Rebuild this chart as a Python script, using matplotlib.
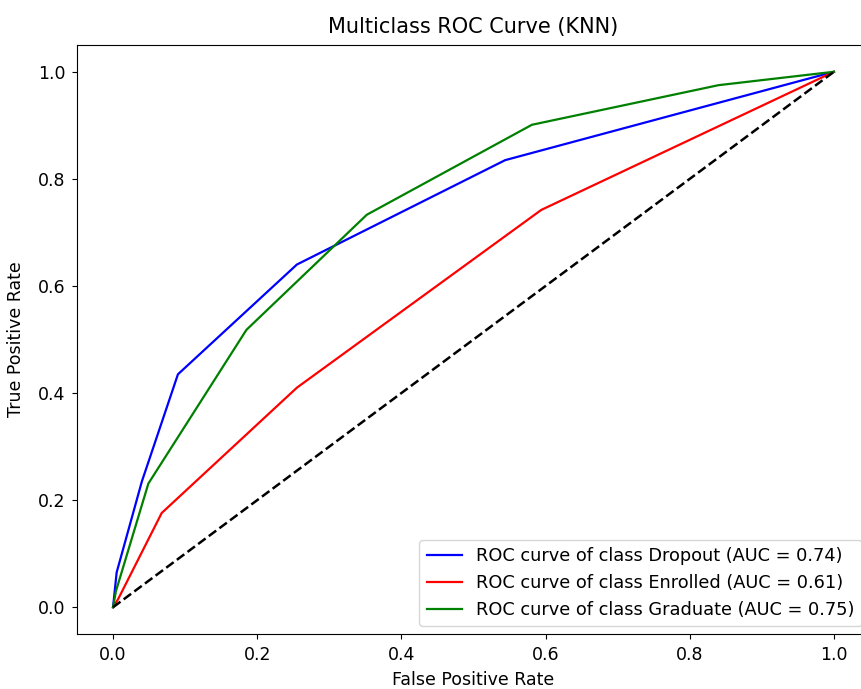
import matplotlib
matplotlib.use("Agg")
import matplotlib.pyplot as plt

classes = ["Dropout", "Enrolled", "Graduate"]
colors = ["blue", "red", "green"]
aucs = [0.74, 0.61, 0.75]

fpr_dropout = [0.0, 0.005, 0.04, 0.09, 0.255, 0.544, 1.0]
tpr_dropout = [0.0, 0.065, 0.235, 0.435, 0.64, 0.835, 1.0]

fpr_enrolled = [0.0, 0.007, 0.0675, 0.255, 0.594, 1.0]
tpr_enrolled = [0.0, 0.015, 0.176, 0.41, 0.742, 1.0]

fpr_graduate = [0.0, 0.004, 0.049, 0.185, 0.352, 0.581, 0.84, 1.0]
tpr_graduate = [0.0, 0.03, 0.231, 0.518, 0.733, 0.901, 0.975, 1.0]

fprs = [fpr_dropout, fpr_enrolled, fpr_graduate]
tprs = [tpr_dropout, tpr_enrolled, tpr_graduate]

fig = plt.figure(figsize=(8.61, 6.89), dpi=100)
ax = fig.add_axes([77 / 861, (689 - 634) / 689, (870 - 77) / 861, (634 - 45) / 689])

for fpr, tpr, name, color, auc in zip(fprs, tprs, classes, colors, aucs):
    ax.plot(fpr, tpr, color=color, lw=1.6,
            label=f"ROC curve of class {name} (AUC = {auc:.2f})")
ax.plot([0, 1], [0, 1], "k--", lw=1.8)

ax.set_title("Multiclass ROC Curve (KNN)", fontsize=15, pad=9)
ax.set_xlabel("False Positive Rate", fontsize=12.5, labelpad=5)
ax.set_ylabel("True Positive Rate", fontsize=12.5, labelpad=9)
ax.tick_params(labelsize=12.5, pad=5)
ax.legend(loc="lower right", fontsize=12.8, borderaxespad=0.45)

fig.savefig("out.png", dpi=100)
